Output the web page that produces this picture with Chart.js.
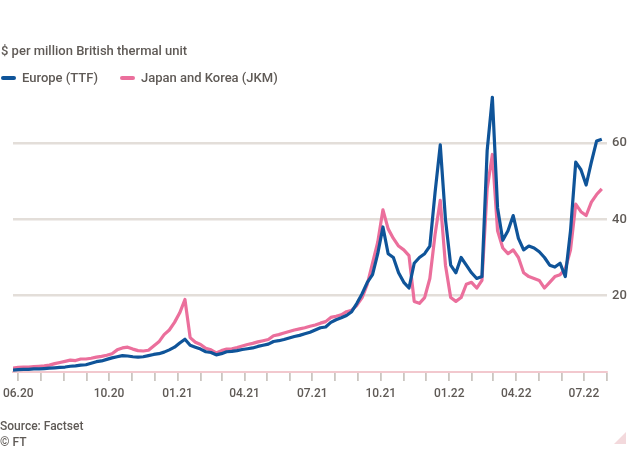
<!DOCTYPE html>
<html><head><meta charset="utf-8">
<script src="https://cdn.jsdelivr.net/npm/chart.js@4"></script>
<style>
body{margin:0;background:#fff;}
#wrap{position:relative;width:630px;height:450px;font-family:Roboto,'Noto Sans',sans-serif;color:#5f5a56;overflow:hidden}
#title{position:absolute;left:1px;top:43px;font-size:13px;font-weight:500;white-space:nowrap}
#legend{position:absolute;left:1px;top:70px;font-size:13px;font-weight:500;display:flex;align-items:center;white-space:nowrap}
.sw{display:inline-block;width:15px;height:4px;border-radius:2px;margin-right:6px}
#c{position:absolute;left:0;top:0}
#src{position:absolute;left:0;top:418px;font-size:12px;font-weight:500;line-height:16px}
#tri{position:absolute;left:614px;top:432px;width:0;height:0;border-left:12px solid transparent;border-bottom:12px solid #f3d9dc}
</style></head>
<body><div id="wrap">
<canvas id="c" width="630" height="450"></canvas>
<div id="title">$ per million British thermal unit</div>
<div id="legend"><span class="sw" style="background:#0f5499"></span><span>Europe (TTF)</span><span style="display:inline-block;width:22px"></span><span class="sw" style="background:#eb6f9c"></span><span>Japan and Korea (JKM)</span></div>
<div id="src">Source: Factset<br>© FT</div>
<div id="tri"></div>
</div>
<script>
// weekly series starting this date
const startDate = '2020-05-25';
const europe = [
0.5,0.6,0.7,0.7,0.8,0.8,0.9,1.0,1.1,1.2,
1.3,1.5,1.6,
1.8,1.9,2.3,2.7,2.9,3.3,3.7,
4.0,4.3,4.2,4.0,3.9,4.0,4.3,4.6,4.8,5.2,
5.8,6.5,7.6,8.6,7.0,6.5,6.0,
5.3,5.1,4.5,4.8,5.3,5.4,5.6,5.9,6.1,6.3,6.7,7.0,7.3,8.0,8.2,8.5,8.9,9.3,9.6,10.0,10.4,11.0,11.6,11.8,
13.0,13.7,14.2,14.8,15.8,18.0,20.5,23.5,25.5,31.0,38.0,31.0,30.0,26.0,23.5,22.0,28.5,30.0,31.0,33.0,47.0,59.5,40.0,28.0,
26.0,30.0,28.0,26.0,24.5,25.0,58.0,72.0,43.0,34.5,37.0,41.0,35.0,32.0,33.0,32.5,31.5,30.0,28.0,27.5,28.5,25.0,37.0,
55.0,53.0,49.0,55.0,60.5,61.0
];
const japan = [
1.0,1.2,1.3,1.3,1.4,1.5,1.6,1.8,2.2,2.5,
2.8,3.1,3.0,
3.4,3.4,3.6,3.9,4.1,4.4,4.8,
5.8,6.3,6.5,6.0,5.6,5.5,5.7,6.8,7.9,9.8,
11.0,13.0,15.5,19.0,9.0,7.8,7.2,
6.2,5.8,5.0,5.6,6.0,6.1,6.4,6.8,7.2,7.5,7.9,8.2,8.5,9.5,9.8,10.2,10.6,11.0,11.3,11.6,12.0,12.3,12.8,13.2,
14.3,14.6,15.0,15.8,16.2,17.5,19.5,23.0,28.5,34.0,42.5,37.5,35.0,33.0,32.0,30.5,18.5,18.0,19.5,24.5,36.0,45.0,28.0,19.5,
18.5,19.5,23.0,23.5,22.0,24.0,48.0,57.0,37.0,32.5,31.0,32.0,30.0,26.0,25.0,24.5,24.0,22.0,23.5,25.0,25.5,27.0,32.0,
44.0,42.0,41.0,44.5,46.5,48.0
];
const xLabels = ['06.20','10.20','01.21','04.21','07.21','10.21','01.22','04.22','07.22'];
const firstTickMonth = '2020-06';
const lastTickMonth = '2022-08';
const yTicks = [0, 20, 40, 60];
const yMax = 74;

const DAY = 86400000;
const t0 = Date.parse(startDate + 'T00:00:00Z');
const dayOf = (y, m) => (Date.UTC(y, m - 1, 1) - t0) / DAY;
const pts = arr => arr.map((v, i) => ({x: i * 7, y: v}));

// monthly ticks
const [fy, fm] = firstTickMonth.split('-').map(Number);
const [ly, lm] = lastTickMonth.split('-').map(Number);
const monthTicks = [];
const labelAt = {};
xLabels.forEach(l => { const [mm, yy] = l.split('.').map(Number); labelAt[dayOf(2000 + yy, mm)] = l; });
for (let y = fy, m = fm; y < ly || (y === ly && m <= lm); m++) {
  if (m > 12) { m = 1; y++; }
  monthTicks.push(dayOf(y, m));
  if (y === ly && m === lm) break;
}
const xMax = monthTicks[monthTicks.length - 1];

const grey = '#5f5a56';
new Chart(document.getElementById('c'), {
  type: 'line',
  data: {
    datasets: [
      {label: 'Europe (TTF)', data: pts(europe), borderColor: '#0f5499', borderWidth: 3.2, pointRadius: 0, tension: 0, borderJoinStyle: 'round'},
      {label: 'Japan and Korea (JKM)', data: pts(japan), borderColor: '#eb6f9c', borderWidth: 3.2, pointRadius: 0, tension: 0, borderJoinStyle: 'round'}
    ]
  },
  options: {
    responsive: false,
    animation: false,
    layout: {padding: {left: 13, top: 89.6, right: 0, bottom: 38}},
    plugins: {legend: {display: false}, tooltip: {enabled: false}},
    scales: {
      x: {
        type: 'linear', min: 0, max: xMax,
        afterBuildTicks: s => { s.ticks = monthTicks.map(v => ({value: v})); },
        afterFit: s => { s.height = 40; s.paddingLeft = 0; s.paddingRight = 0; },
        ticks: {autoSkip: false, maxRotation: 0, padding: 6, color: grey, font: {family: 'Roboto', size: 12, weight: '500'},
          callback: v => labelAt[v] || ''},
        grid: {drawOnChartArea: false, drawTicks: true, tickLength: 9, color: '#cbc6c1', lineWidth: 1.8},
        border: {display: true, color: '#f2c8ce', width: 2}
      },
      y: {
        position: 'right', min: 0, max: yMax,
        afterBuildTicks: s => { s.ticks = yTicks.map(v => ({value: v})); },
        afterFit: s => { s.width = 23; },
        ticks: {padding: 5, color: grey, font: {family: 'Roboto', size: 13, weight: '500'}, callback: v => v === 0 ? '' : v},
        grid: {drawTicks: false, lineWidth: 2.5, color: c => c.tick && c.tick.value === 0 ? 'rgba(0,0,0,0)' : '#e3ded9'},
        border: {display: false}
      }
    }
  }
});
</script>
</body></html>
